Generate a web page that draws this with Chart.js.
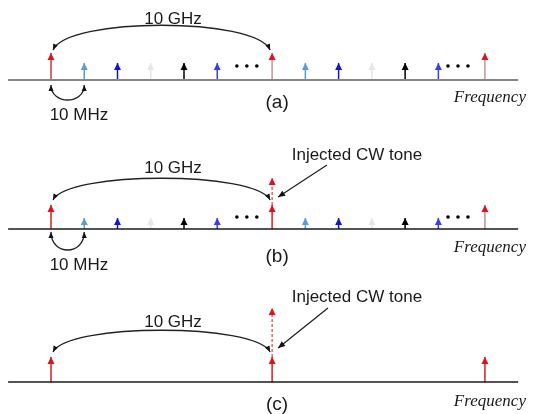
<!DOCTYPE html>
<html>
<head>
<meta charset="utf-8">
<script src="https://cdn.jsdelivr.net/npm/chart.js@4/dist/chart.umd.min.js"></script>
<style>
  body { margin: 0; background: #fff; }
  #wrap { position: relative; width: 540px; height: 414px; }
  canvas { position: absolute; left: 0; }
</style>
</head>
<body>
<div id="wrap">
  <canvas id="pa" width="540" height="138" style="top:0"></canvas>
  <canvas id="pb" width="540" height="138" style="top:138px"></canvas>
  <canvas id="pc" width="540" height="138" style="top:276px"></canvas>
</div>
<script>
// comb lines, x in units of the 10 MHz spacing (sketch, not to scale)
var combFreq = [0, 1, 2, 3, 4, 5, 6.65, 7.65, 8.65, 9.65, 10.65, 11.65, 13.05];
var combAmpA = [27, 17, 17, 17, 17, 17, 27, 17, 17, 17, 17, 17, 27];
var combAmpB = [24, 11, 11, 11, 11, 11, 24, 11, 11, 11, 11, 11, 24];
// after filtering only the 10 GHz lines are left
var keptFreq = [0, 6.65, 13.05];
var keptAmpC = [25, 25, 25];
// injected CW tone
var cwFreq = 6.65;
var cwAmpB = 51;
var cwAmpC = 74;
// "..." between the groups
var dotsFreq = [5.59, 5.89, 6.19, 11.94, 12.24, 12.54];
var dotsAmpA = 14;
var dotsAmpB = 12;
var axisRange = [-1.29, 14.05];

var tipColors = ['#e3101b', '#5b9bd5', '#1414cc', '#e6e6e6', '#000000', '#3b3bee',
                 '#e3101b', '#5b9bd5', '#1414cc', '#e6e6e6', '#000000', '#3b3bee', '#e3101b'];

var sans = '"Liberation Sans", Arial, sans-serif';
var serif = '"Liberation Serif", "Times New Roman", serif';

// arrow heads on stems + arcs / pointers / text
var drawPlugin = {
  id: 'sketch',
  afterDatasetsDraw: function(chart) {
    var ctx = chart.ctx;
    var xs = chart.scales.x, ys = chart.scales.y;
    var cfg = chart.options.plugins.sketch;

    function head(x, y, ang, color, len, wid) {
      ctx.save();
      ctx.translate(x, y);
      ctx.rotate(ang);
      ctx.beginPath();
      ctx.moveTo(0, 0);
      ctx.lineTo(-len, -wid / 2);
      ctx.lineTo(-len, wid / 2);
      ctx.closePath();
      ctx.fillStyle = color;
      ctx.fill();
      ctx.restore();
    }

    chart.data.datasets.forEach(function(ds, i) {
      if (!ds.tip) return;
      var pts = chart.getDatasetMeta(i).data;
      var p = pts[pts.length - 1];
      head(p.x, p.y, -Math.PI / 2, ds.tip, 7, 7);
    });

    ctx.save();
    ctx.strokeStyle = '#222';
    ctx.lineWidth = 1.3;
    (cfg.arcs || []).forEach(function(a) {
      var x0 = xs.getPixelForValue(a.f0), x1 = xs.getPixelForValue(a.f1);
      var y0 = ys.getPixelForValue(a.amp);
      var c1x = x0 + a.lean, c1y = y0 - a.bend;
      var c2x = x1 - a.lean, c2y = y0 - a.bend;
      ctx.beginPath();
      ctx.moveTo(x0, y0);
      ctx.bezierCurveTo(c1x, c1y, c2x, c2y, x1, y0);
      ctx.stroke();
      head(x0, y0, Math.atan2(y0 - c1y, x0 - c1x), '#111', 6, 5);
      head(x1, y0, Math.atan2(y0 - c2y, x1 - c2x), '#111', 6, 5);
    });
    (cfg.pointers || []).forEach(function(p) {
      var x0 = xs.getPixelForValue(p.f0), y0 = ys.getPixelForValue(p.a0);
      var x1 = xs.getPixelForValue(p.f1), y1 = ys.getPixelForValue(p.a1);
      ctx.beginPath();
      ctx.moveTo(x0, y0);
      ctx.lineTo(x1, y1);
      ctx.stroke();
      head(x1, y1, Math.atan2(y1 - y0, x1 - x0), '#111', 7, 6);
    });
    ctx.restore();

    ctx.save();
    ctx.fillStyle = '#1a1a1a';
    ctx.textAlign = 'center';
    ctx.textBaseline = 'middle';
    (cfg.labels || []).forEach(function(l) {
      ctx.font = l.font;
      ctx.fillText(l.text, xs.getPixelForValue(l.f), ys.getPixelForValue(l.amp));
    });
    ctx.restore();
  }
};

function makePanel(id, p) {
  var datasets = [];
  datasets.push({
    data: [{x: axisRange[0], y: 0}, {x: axisRange[1], y: 0}],
    showLine: true, pointRadius: 0, pointHoverRadius: 0,
    borderColor: p.axisColor, borderWidth: p.axisWidth
  });
  p.freq.forEach(function(f, k) {
    datasets.push({
      data: [{x: f, y: 0}, {x: f, y: p.amp[k]}],
      showLine: true, pointRadius: 0, pointHoverRadius: 0, borderWidth: 1.5,
      borderColor: p.stemColor[k], tip: p.tipColor[k]
    });
  });
  if (p.cwAmp) {
    datasets.push({
      data: [{x: cwFreq, y: p.amp[p.freq.indexOf(cwFreq)]}, {x: cwFreq, y: p.cwAmp}],
      showLine: true, pointRadius: 0, pointHoverRadius: 0, borderWidth: 1.2, borderDash: [3, 2],
      borderColor: '#d8404a', tip: '#e3101b'
    });
  }
  if (p.dotsAmp) {
    datasets.push({
      data: dotsFreq.map(function(f) { return {x: f, y: p.dotsAmp}; }),
      pointRadius: 1.8, pointHoverRadius: 1.8, pointBackgroundColor: '#000', pointBorderWidth: 0
    });
  }
  return new Chart(document.getElementById(id), {
    type: 'scatter',
    data: {datasets: datasets},
    options: {
      responsive: false,
      animation: false,
      devicePixelRatio: 1,
      events: [],
      layout: {padding: 0, autoPadding: false},
      scales: {
        x: {type: 'linear', display: false, min: -51 / 33.25, max: (540 - 51) / 33.25},
        y: {type: 'linear', display: false, min: -(138 - p.axisY), max: p.axisY}
      },
      plugins: {
        legend: {display: false},
        tooltip: {enabled: false},
        sketch: p.notes
      }
    },
    plugins: [drawPlugin]
  });
}

var stemA = tipColors.slice();
stemA[0] = '#c8383c'; stemA[6] = '#c49494'; stemA[12] = '#c49494';
var stemB = tipColors.slice();
stemB[0] = '#d42020'; stemB[6] = '#d42020'; stemB[12] = '#c48aa4';

makePanel('pa', {
  axisY: 80, axisColor: '#858585', axisWidth: 2,
  freq: combFreq, amp: combAmpA, stemColor: stemA, tipColor: tipColors,
  dotsAmp: dotsAmpA,
  notes: {
    arcs: [{f0: 0.06, f1: 6.59, amp: 30, bend: 33, lean: 15},
           {f0: 0, f1: 1, amp: -5, bend: -20, lean: 0}],
    labels: [
      {text: '10 GHz', f: 3.67, amp: 61, font: '17px ' + sans},
      {text: '10 MHz', f: 0.84, amp: -35, font: '17px ' + sans},
      {text: '(a)', f: 6.8, amp: -23, font: '19px ' + sans},
      {text: 'Frequency', f: 13.2, amp: -18, font: 'italic 17px ' + serif}
    ]
  }
});

makePanel('pb', {
  axisY: 91, axisColor: '#1a1a1a', axisWidth: 1.5,
  freq: combFreq, amp: combAmpB, stemColor: stemB, tipColor: tipColors,
  dotsAmp: dotsAmpB, cwAmp: cwAmpB,
  notes: {
    arcs: [{f0: 0.06, f1: 6.59, amp: 29, bend: 29, lean: 15},
           {f0: 0, f1: 1, amp: -3, bend: -24, lean: 0}],
    pointers: [{f0: 8.3, a0: 64, f1: 6.83, a1: 32}],
    labels: [
      {text: '10 GHz', f: 3.67, amp: 61, font: '17px ' + sans},
      {text: 'Injected CW tone', f: 9.2, amp: 74, font: '17px ' + sans},
      {text: '10 MHz', f: 0.84, amp: -36, font: '17px ' + sans},
      {text: '(b)', f: 6.8, amp: -28, font: '19px ' + sans},
      {text: 'Frequency', f: 13.2, amp: -19, font: 'italic 17px ' + serif}
    ]
  }
});

makePanel('pc', {
  axisY: 106, axisColor: '#1a1a1a', axisWidth: 1.5,
  freq: keptFreq, amp: keptAmpC,
  stemColor: ['#d42020', '#d42020', '#d42020'],
  tipColor: ['#e3101b', '#e3101b', '#e3101b'],
  cwAmp: cwAmpC,
  notes: {
    arcs: [{f0: 0.06, f1: 6.59, amp: 30, bend: 29, lean: 15}],
    pointers: [{f0: 8.33, a0: 74, f1: 6.83, a1: 34}],
    labels: [
      {text: '10 GHz', f: 3.67, amp: 60, font: '17px ' + sans},
      {text: 'Injected CW tone', f: 9.2, amp: 85, font: '17px ' + sans},
      {text: '(c)', f: 6.8, amp: -23, font: '19px ' + sans},
      {text: 'Frequency', f: 13.2, amp: -20, font: 'italic 17px ' + serif}
    ]
  }
});
</script>
</body>
</html>
